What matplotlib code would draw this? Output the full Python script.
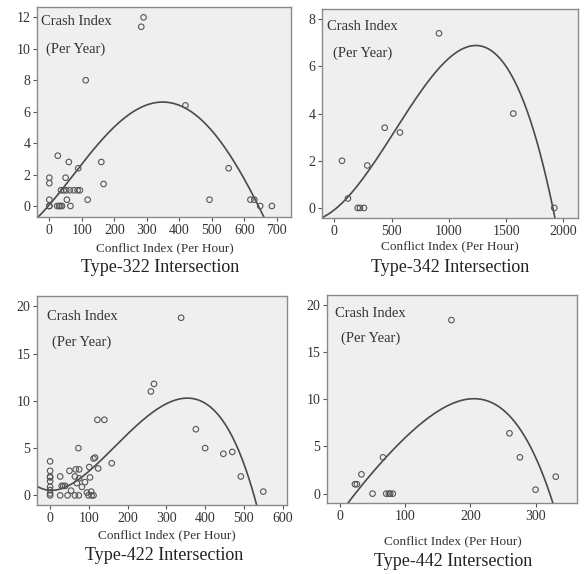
import numpy as np
import matplotlib.pyplot as plt

plt.rcParams['font.family'] = ['Liberation Serif', 'DejaVu Serif']

# ---- Type-322 ----
x322 = [290, 283, 112, 419, 26, 60, 160, 89, 552, 0, 0, 50, 167,
        36, 44, 52, 63, 75, 87, 94,
        0, 54, 118, 493, 619, 631,
        0, 0, 24, 30, 34, 39, 65, 649, 685]
y322 = [12.0, 11.4, 8.0, 6.4, 3.2, 2.8, 2.8, 2.4, 2.4, 1.8, 1.45, 1.8, 1.4,
        1.0, 1.0, 1.0, 1.0, 1.0, 1.0, 1.0,
        0.4, 0.4, 0.4, 0.4, 0.4, 0.4,
        0, 0, 0, 0, 0, 0, 0, 0, 0]
cx322 = [-28, 90, 167, 270, 357, 418, 495, 557, 608, 647, 657]
cy322 = [-0.57, 2.4, 4.41, 6.06, 6.49, 6.36, 5.04, 3.14, 1.23, 0, -0.57]

# ---- Type-342 ----
x342 = [914, 1563, 440, 573, 67, 288, 119, 204, 224, 259, 1921]
y342 = [7.4, 4.0, 3.4, 3.2, 2.0, 1.8, 0.4, 0, 0, 0, 0]
cx342 = [-108, 120, 271, 417, 592, 767, 941, 1217, 1406, 1580, 1755, 1872, 1916]
cy342 = [-0.37, 0.41, 1.33, 2.46, 3.73, 5.14, 6.13, 6.75, 6.42, 5.29, 3.31, 0.9, -0.37]

# ---- Type-422 ----
x422 = [338, 260, 268, 376, 400, 447, 470, 492, 550, 122, 140, 73, 159,
        112, 116, 101, 124, 103, 106,
        0, 0, 0, 0, 0, 0, 0, 0, 0,
        26, 30, 34, 39, 26, 45, 64, 74, 99, 107, 112, 95,
        50, 66, 75, 64, 75, 90, 69, 82, 54]
y422 = [18.8, 11.0, 11.8, 7.0, 5.0, 4.4, 4.6, 2.0, 0.4, 8.0, 8.0, 5.0, 3.4,
        3.9, 4.0, 3.0, 2.85, 1.9, 0.4,
        3.6, 2.6, 2.0, 1.9, 1.5, 0.9, 0.56, 0.2, 0,
        2.0, 1.0, 1.0, 1.0, 0, 0, 0, 0, 0, 0, 0, 0.3,
        2.6, 2.75, 2.75, 2.0, 1.8, 1.4, 1.3, 0.9, 0.5]
cx422 = [-33.5, 18, 52, 95, 138, 190, 241, 293, 345, 396, 448, 491, 517, 529.5]
cy422 = [0.91, 0.74, 1.09, 2.33, 3.92, 6.03, 8.15, 9.66, 10.26, 9.73, 7.6, 4.44, 1.62, -0.85]

# ---- Type-442 ----
x442 = [171, 260, 276, 300, 331, 66, 33, 23, 26, 50, 71, 75, 77, 81]
y442 = [18.4, 6.4, 3.85, 0.42, 1.8, 3.85, 2.05, 1.0, 1.0, 0, 0, 0, 0, 0]
cx442 = [11.7, 31, 67, 108, 149, 185, 208, 236, 266, 292, 312, 327]
cy442 = [-1.1, 0.74, 3.57, 6.4, 8.7, 9.87, 10.04, 9.58, 7.81, 4.98, 1.8, -1.02]

panels = [
    dict(x=x322, y=y322, cx=cx322, cy=cy322, deg=4,
         rect=[0.0639, 0.6225, 0.4339, 0.3648],
         xlim=(-37, 743), ylim=(-0.68, 12.64),
         xt=range(0, 701, 100), yt=range(0, 13, 2),
         t1=(0.013, 0.93), t2=(0.034, 0.80),
         lab=(165, 248), ttl=(160, 267), name='Type-322 Intersection'),
    dict(x=x342, y=y342, cx=cx342, cy=cy342, deg=4,
         rect=[0.5519, 0.6197, 0.4384, 0.3641],
         xlim=(-105, 2131), ylim=(-0.44, 8.42),
         xt=range(0, 2001, 500), yt=range(0, 9, 2),
         t1=(0.017, 0.917), t2=(0.04, 0.79),
         lab=(450, 246), ttl=(450, 267), name='Type-342 Intersection'),
    dict(x=x422, y=y422, cx=cx422, cy=cy422, deg=5,
         rect=[0.0639, 0.1202, 0.4281, 0.3641],
         xlim=(-33, 612), ylim=(-1.02, 21.1),
         xt=range(0, 601, 100), yt=range(0, 21, 5),
         t1=(0.037, 0.90), t2=(0.057, 0.78),
         lab=(167, 535), ttl=(164, 555), name='Type-422 Intersection'),
    dict(x=x442, y=y442, cx=cx442, cy=cy442, deg=4,
         rect=[0.5604, 0.1232, 0.4281, 0.3629],
         xlim=(-19.4, 364), ylim=(-1.02, 21.06),
         xt=range(0, 301, 100), yt=range(0, 21, 5),
         t1=(0.031, 0.91), t2=(0.054, 0.79),
         lab=(453, 541), ttl=(453, 561), name='Type-442 Intersection'),
]

W, H = 584, 574
fig = plt.figure(figsize=(W / 100, H / 100), dpi=100)

for p in panels:
    ax = fig.add_axes(p['rect'])
    ax.set_facecolor('#efefef')
    for s in ax.spines.values():
        s.set_color('#8a8a8a')
        s.set_linewidth(1.0)
    ax.scatter(p['x'], p['y'], s=16, facecolors='none', edgecolors='#555555',
               linewidths=0.8, zorder=3)
    # fitted trend curve through the read-off curve points
    coef = np.polyfit(p['cx'], p['cy'], p['deg'])
    xs = np.linspace(p['xlim'][0], p['xlim'][1], 400)
    ys = np.polyval(coef, xs)
    ax.plot(xs, ys, color='#4a4a4a', lw=1.2, zorder=2)
    ax.set_xlim(*p['xlim'])
    ax.set_ylim(*p['ylim'])
    ax.set_xticks(list(p['xt']))
    ax.set_yticks(list(p['yt']))
    ax.tick_params(direction='out', length=3, width=0.8, color='#555555',
                   labelsize=10, pad=2, labelcolor='#333333')
    ax.text(p['t1'][0], p['t1'][1], 'Crash Index', transform=ax.transAxes,
            fontsize=10.5, color='#333333', va='center', ha='left')
    ax.text(p['t2'][0], p['t2'][1], '(Per Year)', transform=ax.transAxes,
            fontsize=10.5, color='#333333', va='center', ha='left')
    fig.text(p['lab'][0] / W, 1 - p['lab'][1] / H, 'Conflict Index (Per Hour)',
             ha='center', va='center', fontsize=9.5, color='#333333')
    fig.text(p['ttl'][0] / W, 1 - p['ttl'][1] / H, p['name'],
             ha='center', va='center', fontsize=13, color='#222222')

fig.savefig('out.png', dpi=100)
